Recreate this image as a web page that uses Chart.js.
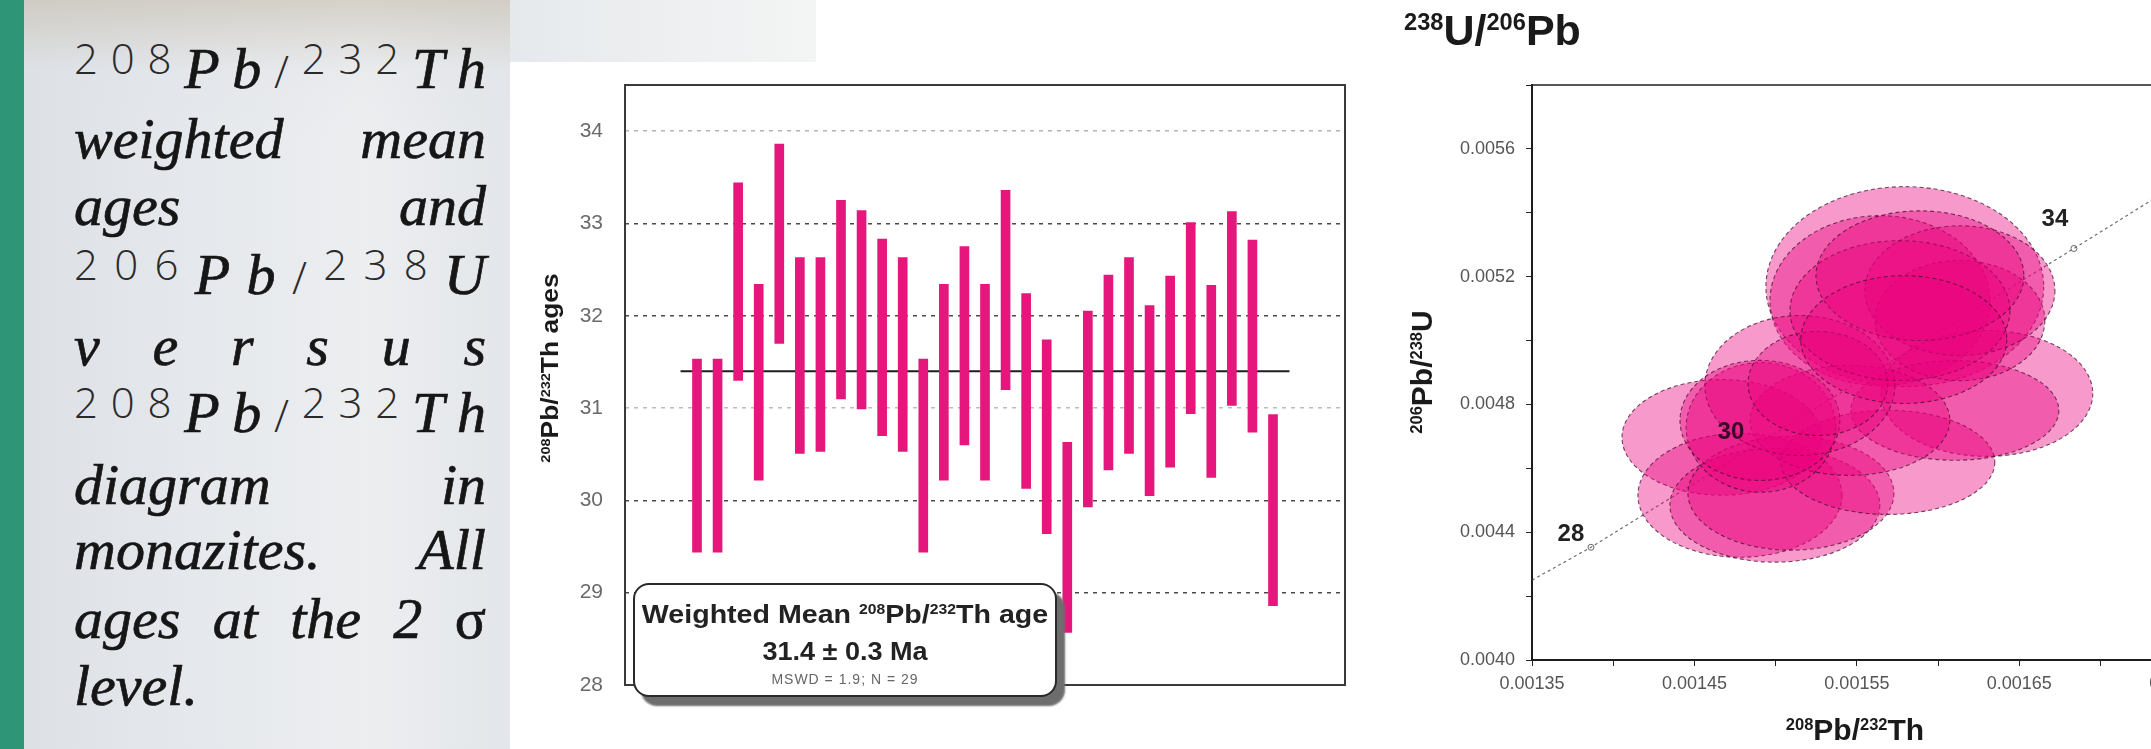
<!DOCTYPE html>
<html>
<head>
<meta charset="utf-8">
<script src="https://cdn.jsdelivr.net/npm/chart.js@4.4.1/dist/chart.umd.min.js"></script>
<style>
  html, body { margin: 0; padding: 0; }
  body { width: 2151px; height: 749px; overflow: hidden; position: relative; background: #fff;
         font-family: "Liberation Sans", Arial, sans-serif; }
  #strip { position: absolute; left: 0; top: 0; width: 24px; height: 749px; background: #2e9577; }
  #photo { position: absolute; left: 24px; top: 0; width: 486px; height: 749px;
           background: linear-gradient(180deg, rgba(196,186,168,0.55) 0, rgba(222,224,228,0.2) 70px, rgba(0,0,0,0) 140px),
                       linear-gradient(90deg, #dde1e6 0%, #e5e8ec 35%, #eceef0 70%, #e3e6ea 100%); }
  #photoTop { position: absolute; left: 510px; top: 0; width: 306px; height: 62px;
              background: linear-gradient(90deg, #e6e9ec, #eef0f1 60%, #f3f4f4); }
  canvas { position: absolute; }
  #ages { left: 520px; top: 60px; }
  #concordia { left: 1380px; top: 60px; }

  .line { position: absolute; left: 74px; width: 412px; height: 70px; line-height: 70px;
          display: flex; justify-content: space-between; align-items: baseline;
          font-family: "Liberation Serif", "DejaVu Serif", serif; font-style: italic; font-size: 58px;
          color: #161616; -webkit-text-stroke: 0.7px #161616; white-space: nowrap; }
  .line .d { font-family: "Open Sans", "DejaVu Sans", sans-serif; font-style: normal; font-weight: 300;
             font-size: 42px; position: relative; top: -14px; color: #2a2a2a; -webkit-text-stroke: 0; }
  .line .s { font-family: "Open Sans", "DejaVu Sans", sans-serif; font-style: normal; font-weight: 300;
             font-size: 44px; color: #2a2a2a; -webkit-text-stroke: 0; }
  .line .g { font-style: normal; }

  sup { font-size: 55%; vertical-align: 0; position: relative; top: -0.62em; }
  .title { position: absolute; font-weight: bold; color: #1a1a1a; white-space: nowrap; text-align: center; }
  .rot { transform: rotate(-90deg); transform-origin: 50% 50%; }

  #legend { position: absolute; left: 633px; top: 583px; width: 424px; height: 114px; box-sizing: border-box;
            border: 2px solid #2a2a2a; border-radius: 16px; background: #fff; box-shadow: 8px 9px 2px #6d6d6d; }
  #legend div { position: absolute; left: 0; width: 100%; text-align: center; white-space: nowrap; color: #222; }
  #legend .l1 { top: 14px; font-size: 26px; line-height: 30px; font-weight: bold; transform: scaleX(1.1); }
  #legend .l2 { top: 51px; font-size: 26px; line-height: 30px; font-weight: bold; transform: scaleX(1.04); }
  #legend .l3 { top: 86px; font-size: 14px; line-height: 16px; color: #666; letter-spacing: 1px; }
</style>
</head>
<body>
<div id="strip"></div>
<div id="photo"></div>
<div id="photoTop"></div>

<div class="line" style="top:34px"><span class="d">2</span><span class="d">0</span><span class="d">8</span><span>P</span><span>b</span><span class="s">/</span><span class="d">2</span><span class="d">3</span><span class="d">2</span><span>T</span><span>h</span></div>
<div class="line" style="top:104px"><span>weighted</span><span>mean</span></div>
<div class="line" style="top:171px"><span>ages</span><span>and</span></div>
<div class="line" style="top:240px"><span class="d">2</span><span class="d">0</span><span class="d">6</span><span>P</span><span>b</span><span class="s">/</span><span class="d">2</span><span class="d">3</span><span class="d">8</span><span>U</span></div>
<div class="line" style="top:311px"><span>v</span><span>e</span><span>r</span><span>s</span><span>u</span><span>s</span></div>
<div class="line" style="top:378px"><span class="d">2</span><span class="d">0</span><span class="d">8</span><span>P</span><span>b</span><span class="s">/</span><span class="d">2</span><span class="d">3</span><span class="d">2</span><span>T</span><span>h</span></div>
<div class="line" style="top:450px"><span>diagram</span><span>in</span></div>
<div class="line" style="top:515px"><span>monazites.</span><span>All</span></div>
<div class="line" style="top:584px"><span>ages</span><span>at</span><span>the</span><span>2</span><span class="g">σ</span></div>
<div class="line" style="top:651px; justify-content:flex-start"><span>level.</span></div>

<canvas id="ages" width="850" height="660"></canvas>
<canvas id="concordia" width="900" height="660"></canvas>

<div class="title" style="left:400px; top:353px; width:300px; height:30px; line-height:30px; font-size:24px; transform: rotate(-90deg) scaleX(1.1);"><sup>208</sup>Pb/<sup>232</sup>Th ages</div>

<div id="legend">
  <div class="l1">Weighted Mean <sup>208</sup>Pb/<sup>232</sup>Th age</div>
  <div class="l2">31.4 ± 0.3 Ma</div>
  <div class="l3">MSWD = 1.9; N = 29</div>
</div>

<div class="title" style="left:1404px; top:6px; font-size:43px; line-height:48px; text-align:left;"><sup>238</sup>U/<sup>206</sup>Pb</div>
<div class="title rot" style="left:1272px; top:354px; width:300px; height:36px; line-height:36px; font-size:30px;"><sup>206</sup>Pb/<sup>238</sup>U</div>
<div class="title" style="left:1705px; top:713px; width:300px; font-size:30px; line-height:34px;"><sup>208</sup>Pb/<sup>232</sup>Th</div>

<script>
// weighted mean chart: one error bar per analysis (2 sigma, Ma)
const analysis = [1, 2, 3, 4, 5, 6, 7, 8, 9, 10, 11, 12, 13, 14, 15, 16, 17, 18, 19, 20, 21, 22, 23, 24, 25, 26, 27, 28, 29];
const ageLow = [29.44, 29.44, 31.30, 30.22, 31.70, 30.51, 30.53, 31.10, 30.99, 30.70,
                30.53, 29.44, 30.22, 30.60, 30.22, 31.20, 30.13, 29.64, 28.57, 29.93,
                30.33, 30.51, 30.05, 30.36, 30.94, 30.25, 31.03, 30.74, 28.86];
const ageHigh = [31.53, 31.53, 33.44, 32.34, 33.86, 32.63, 32.63, 33.25, 33.14, 32.83,
                 32.63, 31.53, 32.34, 32.75, 32.34, 33.36, 32.24, 31.74, 30.63, 32.05,
                 32.44, 32.63, 32.11, 32.43, 33.01, 32.33, 33.13, 32.82, 30.93];
const meanAge = 31.4;
const meanSpan = [0.2, 29.8];

// concordia diagram
const concX = [0.00135, 0.0013863, 0.0016836, 0.00176];
const concY = [0.00425, 0.0043529, 0.0052882, 0.00553];
const markAge = ['28', '30', '32', '34'];
const markX = [0.0013863, 0.0014854, 0.0015850, 0.0016836];
const markY = [0.0043529, 0.0046646, 0.0049750, 0.0052882];
const shownAges = ['28', '30', '34'];

// error ellipses: centre and semi-axes in ratio units
const ellX  = [0.0015795, 0.0015642, 0.0016300, 0.0014669, 0.0014780, 0.0014995, 0.0015094,
               0.0015691, 0.0016103, 0.0015457, 0.0014909, 0.0015149, 0.0014903, 0.0015260,
               0.0016134, 0.0016134, 0.0015765, 0.0015888, 0.0015789];
const ellY  = [0.0051688, 0.0051250, 0.0048344, 0.0046969, 0.0045156, 0.0044844, 0.0045219,
               0.0046188, 0.0047813, 0.0047500, 0.0047281, 0.0048594, 0.0047500, 0.0048656,
               0.0050625, 0.0051563, 0.0050938, 0.0052031, 0.0050031];
const ellRX = [0.0000855, 0.0000677, 0.0000652, 0.0000615, 0.0000628, 0.0000646, 0.0000634,
               0.0000658, 0.0000640, 0.0000615, 0.0000460, 0.0000585, 0.0000492, 0.0000430,
               0.0000523, 0.0000585, 0.0000677, 0.0000640, 0.0000634];
const ellRY = [0.000313, 0.000266, 0.000197, 0.000181, 0.000194, 0.000178, 0.000178,
               0.000163, 0.000156, 0.000172, 0.000203, 0.000219, 0.000188, 0.000163,
               0.000188, 0.000203, 0.000219, 0.000203, 0.000200];

Chart.defaults.font.family = '"Liberation Sans", Arial, sans-serif';

const frame = {
    id: 'frame',
    afterDraw(chart, args, opts) {
        const a = chart.chartArea;
        const ctx = chart.ctx;
        ctx.save();
        ctx.lineWidth = opts.width || 2;
        ctx.strokeStyle = opts.color || '#333';
        ctx.strokeRect(a.left, a.top, a.right - a.left, a.bottom - a.top);
        ctx.restore();
    }
};

new Chart(document.getElementById('ages'), {
    type: 'bar',
    data: {
        datasets: [{
            data: analysis.map((n, i) => ({ x: n, y: [ageLow[i], ageHigh[i]] })),
            backgroundColor: '#e6177c',
            barThickness: 9,
            order: 0
        }, {
            type: 'line',
            data: meanSpan.map(x => ({ x: x, y: meanAge })),
            borderColor: '#1e1e1e',
            borderWidth: 2,
            pointRadius: 0,
            order: 1
        }]
    },
    options: {
        responsive: false,
        animation: false,
        layout: { padding: { top: 25, right: 25, bottom: 35, left: 0 } },
        plugins: { legend: { display: false }, tooltip: { enabled: false }, frame: { width: 2, color: '#3a3a3a' } },
        scales: {
            x: { type: 'linear', min: 0, max: 30, display: false },
            y: {
                min: 28, max: 34.5,
                afterFit(s) { s.width = 105; },
                border: { display: false, dash: [4, 5] },
                grid: {
                    drawTicks: true,
                    tickLength: 22,
                    tickColor: 'rgba(0,0,0,0)',
                    lineWidth: 1.4,
                    color(c) {
                        const v = c.tick.value;
                        if (!Number.isInteger(v) || v === 28) return 'rgba(0,0,0,0)';
                        if (v === 34) return '#b4b4b4';
                        if (v === 31) return '#b9c0b2';
                        return '#4a4a4a';
                    }
                },
                ticks: {
                    stepSize: 1,
                    autoSkip: false,
                    padding: 0,
                    color: '#6a6a6a',
                    font: { size: 21 },
                    callback: v => Number.isInteger(v) ? String(v) : ''
                }
            }
        }
    },
    plugins: [frame]
});

const ellipses = {
    id: 'ellipses',
    afterDatasetsDraw(chart) {
        const { ctx, chartArea: a, scales: { x, y } } = chart;
        ctx.save();
        ctx.beginPath();
        ctx.rect(a.left, a.top, a.right - a.left, a.bottom - a.top);
        ctx.clip();
        for (let i = 0; i < ellX.length; i++) {
            const cx = x.getPixelForValue(ellX[i]);
            const cy = y.getPixelForValue(ellY[i]);
            const rx = Math.abs(x.getPixelForValue(ellX[i] + ellRX[i]) - cx);
            const ry = Math.abs(y.getPixelForValue(ellY[i] + ellRY[i]) - cy);
            ctx.beginPath();
            ctx.ellipse(cx, cy, rx, ry, 0, 0, Math.PI * 2);
            ctx.fillStyle = 'rgba(234, 0, 126, 0.4)';
            ctx.fill();
            ctx.setLineDash([4, 3]);
            ctx.lineWidth = 1.1;
            ctx.strokeStyle = 'rgba(70, 15, 45, 0.75)';
            ctx.stroke();
        }
        ctx.restore();

        // age labels on the concordia
        const offsets = { '28': [-20, -13], '30': [-21, -15], '34': [-19, -29] };
        ctx.save();
        ctx.font = 'bold 24px "Liberation Sans", Arial, sans-serif';
        ctx.textAlign = 'center';
        ctx.textBaseline = 'middle';
        shownAges.forEach(age => {
            const i = markAge.indexOf(age);
            const px = x.getPixelForValue(markX[i]) + offsets[age][0];
            const py = y.getPixelForValue(markY[i]) + offsets[age][1];
            ctx.fillStyle = age === '30' ? '#3b0a27' : '#222';
            ctx.fillText(age, px, py);
        });
        ctx.restore();
    }
};

new Chart(document.getElementById('concordia'), {
    type: 'scatter',
    data: {
        datasets: [{
            type: 'line',
            data: concX.map((v, i) => ({ x: v, y: concY[i] })),
            borderColor: '#6e6e6e',
            borderWidth: 1.2,
            borderDash: [3, 3],
            pointRadius: 0
        }, {
            data: markX.map((v, i) => ({ x: v, y: markY[i] })),
            pointRadius: 3,
            backgroundColor: '#fff',
            borderColor: '#666',
            borderWidth: 1
        }]
    },
    options: {
        responsive: false,
        animation: false,
        layout: { padding: { top: 25, right: 17, bottom: 0, left: 0 } },
        plugins: { legend: { display: false }, tooltip: { enabled: false }, frame: { width: 1.5, color: '#222' } },
        scales: {
            x: {
                type: 'linear', min: 0.00135, max: 0.0018,
                afterFit(s) { s.height = 60; },
                border: { color: '#111', width: 2 },
                grid: { drawOnChartArea: false, tickLength: 6, color: '#222' },
                ticks: {
                    stepSize: 0.00005,
                    autoSkip: false,
                    maxRotation: 0,
                    padding: 7,
                    color: '#555',
                    font: { size: 18 },
                    callback: v => Math.round(v / 0.00005) % 2 === 1 ? v.toFixed(5) : ''
                }
            },
            y: {
                min: 0.004, max: 0.0058,
                afterFit(s) { s.width = 152; },
                border: { color: '#111', width: 2 },
                grid: { drawOnChartArea: false, tickLength: 6, color: '#222' },
                ticks: {
                    stepSize: 0.0002,
                    autoSkip: false,
                    padding: 11,
                    color: '#555',
                    font: { size: 18 },
                    callback: v => Math.round(v / 0.0002) % 2 === 0 ? v.toFixed(4) : ''
                }
            }
        }
    },
    plugins: [frame, ellipses]
});
</script>
</body>
</html>
